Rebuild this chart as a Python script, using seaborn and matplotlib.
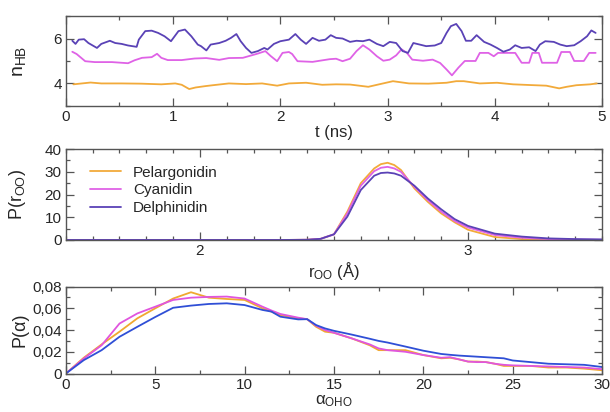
import numpy as np
import pandas as pd
import seaborn as sns
import matplotlib.pyplot as plt
from matplotlib.ticker import MultipleLocator, FuncFormatter

# ---- panel 1: number of H-bonds vs time ----
t_pel = [0.07, 0.15, 0.23, 0.33, 0.52, 0.70, 0.89, 1.02, 1.08, 1.15, 1.21, 1.30, 1.37,
         1.52, 1.68, 1.83, 1.97, 2.08, 2.24, 2.39, 2.52, 2.65, 2.82, 2.93, 3.05, 3.20,
         3.38, 3.55, 3.64, 3.71, 3.86, 4.02, 4.17, 4.32, 4.48, 4.60, 4.67, 4.76, 4.89, 4.95]
n_pel = [3.96, 4.00, 4.04, 4.00, 4.00, 3.99, 3.96, 4.00, 3.94, 3.75, 3.82, 3.88, 3.92,
         4.00, 3.97, 4.00, 3.90, 4.00, 4.03, 3.94, 3.96, 3.95, 3.85, 3.97, 4.10, 4.00,
         3.99, 4.03, 4.10, 4.10, 4.00, 4.03, 3.96, 3.93, 3.90, 3.78, 3.85, 3.92, 3.96, 4.00]

t_cya = [0.06, 0.10, 0.18, 0.27, 0.43, 0.58, 0.64, 0.71, 0.80, 0.85, 0.89, 0.95, 1.08,
         1.20, 1.31, 1.43, 1.52, 1.65, 1.79, 1.86, 1.91, 1.97, 2.02, 2.08, 2.11, 2.16,
         2.30, 2.46, 2.52, 2.58, 2.65, 2.71, 2.77, 2.83, 2.90, 2.96, 3.02, 3.08, 3.13,
         3.18, 3.23, 3.33, 3.42, 3.49, 3.55, 3.60, 3.66, 3.72, 3.82, 3.86, 3.94, 3.99,
         4.03, 4.19, 4.25, 4.32, 4.35, 4.41, 4.44, 4.58, 4.62, 4.70, 4.74, 4.83, 4.88, 4.94]
n_cya = [5.41, 5.31, 4.99, 4.95, 4.95, 4.90, 5.03, 5.14, 5.17, 5.32, 5.14, 5.04, 5.04,
         5.11, 5.13, 5.05, 5.13, 5.14, 5.33, 5.44, 5.22, 4.99, 5.36, 5.40, 5.31, 4.99,
         4.96, 5.08, 5.10, 4.99, 5.10, 5.44, 5.70, 5.51, 5.21, 5.01, 5.06, 5.25, 5.52,
         5.36, 5.06, 5.01, 5.06, 4.91, 4.62, 4.36, 4.70, 5.00, 5.00, 5.36, 5.36, 5.21,
         5.36, 5.36, 4.92, 4.92, 5.36, 5.36, 4.92, 4.92, 5.40, 5.40, 5.00, 5.00, 5.36, 5.36]

t_del = [0.06, 0.09, 0.12, 0.17, 0.21, 0.29, 0.33, 0.41, 0.46, 0.52, 0.58, 0.66, 0.68,
         0.74, 0.80, 0.86, 0.92, 0.98, 1.05, 1.11, 1.17, 1.23, 1.26, 1.31, 1.35, 1.43,
         1.49, 1.54, 1.59, 1.63, 1.68, 1.73, 1.79, 1.85, 1.88, 1.94, 2.00, 2.08, 2.14,
         2.19, 2.24, 2.30, 2.36, 2.42, 2.47, 2.52, 2.58, 2.65, 2.71, 2.77, 2.83, 2.90,
         2.96, 3.02, 3.08, 3.14, 3.19, 3.24, 3.30, 3.36, 3.44, 3.50, 3.55, 3.59, 3.64,
         3.69, 3.73, 3.78, 3.83, 3.90, 3.96, 4.02, 4.08, 4.14, 4.19, 4.25, 4.32, 4.38,
         4.42, 4.47, 4.55, 4.61, 4.67, 4.74, 4.80, 4.86, 4.90, 4.94]
n_del = [5.90, 5.76, 5.95, 5.97, 5.80, 5.58, 5.76, 5.90, 5.80, 5.76, 5.69, 5.63, 5.95,
         6.33, 6.35, 6.25, 6.10, 5.88, 6.33, 6.40, 6.10, 5.73, 5.66, 5.47, 5.73, 5.80,
         5.90, 6.03, 6.20, 5.88, 5.58, 5.36, 5.44, 5.58, 5.51, 5.76, 5.88, 5.95, 6.20,
         5.95, 5.76, 6.03, 5.90, 5.95, 6.15, 6.03, 6.00, 5.85, 5.90, 5.88, 5.95, 5.76,
         5.66, 5.85, 5.80, 5.44, 5.36, 5.80, 5.73, 5.66, 5.69, 5.80, 6.25, 6.55, 6.65,
         6.33, 5.90, 5.90, 6.15, 5.85, 5.73, 5.58, 5.41, 5.51, 5.70, 5.58, 5.61, 5.44,
         5.73, 5.88, 5.85, 5.73, 5.66, 5.70, 5.88, 6.10, 6.36, 6.25]

# ---- panel 2: O-O distance distribution ----
r_oo = [1.50, 2.30, 2.40, 2.45, 2.50, 2.55, 2.60, 2.65, 2.675, 2.70, 2.725, 2.75, 2.80,
        2.85, 2.90, 2.95, 3.00, 3.10, 3.20, 3.30, 3.40, 3.50]
p_pel = [0, 0, 0.1, 0.5, 2.5, 12.5, 25.0, 31.5, 33.4, 34.0, 33.0, 30.8, 22.7,
         16.8, 11.7, 7.8, 4.5, 1.3, 0.4, 0.15, 0.05, 0.0]
p_cya = [0, 0, 0.1, 0.5, 2.5, 11.7, 23.9, 30.3, 31.8, 32.2, 31.5, 30.0, 23.4,
         17.6, 12.5, 8.4, 5.5, 2.2, 1.0, 0.4, 0.2, 0.1]
p_del = [0, 0, 0.1, 0.5, 2.5, 10.3, 22.0, 28.3, 29.5, 29.7, 29.3, 28.3, 23.9,
         18.3, 13.5, 9.2, 6.2, 2.8, 1.5, 0.7, 0.4, 0.25]

# ---- panel 3: O-H...O angle distribution ----
alpha = [0, 1, 2, 3, 4, 5, 6, 7, 8, 9, 10, 11, 11.5, 12, 13, 13.5, 14, 14.5, 15, 16,
         17, 17.5, 18, 19, 20, 21, 21.5, 22, 22.5, 23, 23.5, 24, 24.5, 25, 26, 27, 28, 29, 30]
pa_pel = [0, 0.0145, 0.0268, 0.0385, 0.0508, 0.060, 0.069, 0.0748, 0.0698, 0.0686, 0.0677,
          0.060, 0.057, 0.0538, 0.0508, 0.050, 0.043, 0.0385, 0.0375, 0.0323, 0.026, 0.0215,
          0.0215, 0.0215, 0.017, 0.014, 0.0145, 0.013, 0.011, 0.011, 0.0105, 0.009, 0.007,
          0.007, 0.007, 0.0055, 0.0055, 0.0045, 0.003]
pa_cya = [0, 0.0138, 0.026, 0.046, 0.0553, 0.0615, 0.0677, 0.0698, 0.0705, 0.0708, 0.069,
          0.0615, 0.058, 0.0548, 0.0514, 0.050, 0.044, 0.040, 0.0375, 0.0323, 0.0268, 0.0231,
          0.0215, 0.020, 0.017, 0.0145, 0.015, 0.013, 0.011, 0.0105, 0.0105, 0.009, 0.008,
          0.0075, 0.007, 0.0065, 0.006, 0.0055, 0.004]
pa_del = [0, 0.0123, 0.0215, 0.0338, 0.043, 0.052, 0.0605, 0.0625, 0.064, 0.0646, 0.063,
          0.0585, 0.057, 0.0523, 0.0498, 0.050, 0.0446, 0.0415, 0.0393, 0.0358, 0.032, 0.030,
          0.0285, 0.0248, 0.021, 0.018, 0.0172, 0.0165, 0.016, 0.0155, 0.015, 0.0145, 0.014,
          0.012, 0.0105, 0.009, 0.0085, 0.008, 0.006]

names = ["Pelargonidin", "Cyanidin", "Delphinidin"]
pal_top = dict(zip(names, ["#F2AA3A", "#DF62E6", "#5A42B6"]))
pal_bot = dict(zip(names, ["#F0A830", "#E055DE", "#2F4FD6"]))


def long_df(xs, ys, xname, yname):
    parts = [pd.DataFrame({xname: x, yname: y, "mol": n}) for x, y, n in zip(xs, ys, names)]
    return pd.concat(parts, ignore_index=True)


df_hb = long_df([t_pel, t_cya, t_del], [n_pel, n_cya, n_del], "t", "n")
df_r = long_df([r_oo] * 3, [p_pel, p_cya, p_del], "r", "p")
df_a = long_df([alpha] * 3, [pa_pel, pa_cya, pa_del], "a", "p")

sns.set_style("ticks")
plt.rcParams['font.family'] = ['Liberation Sans', 'DejaVu Sans']
plt.rcParams['mathtext.fontset'] = 'custom'
plt.rcParams['mathtext.rm'] = 'Liberation Sans'
plt.rcParams['mathtext.it'] = 'Liberation Sans:italic'
plt.rcParams['mathtext.default'] = 'regular'

fig = plt.figure(figsize=(6.1, 4.12), dpi=100)
ax1 = fig.add_axes([0.108, 0.743, 0.879, 0.218])
ax2 = fig.add_axes([0.108, 0.4175, 0.879, 0.2205])
ax3 = fig.add_axes([0.108, 0.0934, 0.879, 0.211])

sns.lineplot(data=df_hb, x="t", y="n", hue="mol", palette=pal_top, sort=False,
             estimator=None, lw=1.3, legend=False, ax=ax1)
sns.lineplot(data=df_r, x="r", y="p", hue="mol", palette=pal_top, sort=False,
             estimator=None, lw=1.3, ax=ax2)
sns.lineplot(data=df_a, x="a", y="p", hue="mol", palette=pal_bot, sort=False,
             estimator=None, lw=1.3, legend=False, ax=ax3)

ax1.set(xlim=(0, 5), ylim=(3, 7))
ax1.xaxis.set_major_locator(MultipleLocator(1))
ax1.xaxis.set_minor_locator(MultipleLocator(0.5))
ax1.yaxis.set_major_locator(MultipleLocator(2))
ax1.yaxis.set_minor_locator(MultipleLocator(1))
ax1.set_xlabel("t (ns)", fontsize=12, labelpad=1)
ax1.set_ylabel(r"n$_{\rm HB}$", fontsize=14)

ax2.set(xlim=(1.5, 3.5), ylim=(0, 40))
ax2.xaxis.set_major_locator(MultipleLocator(1))
ax2.xaxis.set_minor_locator(MultipleLocator(0.1))
ax2.yaxis.set_major_locator(MultipleLocator(10))
ax2.yaxis.set_minor_locator(MultipleLocator(5))
ax2.set_xlabel(r"r$_{\rm OO}$ (Å)", fontsize=12, labelpad=1)
ax2.set_ylabel(r"P(r$_{\rm OO}$)", fontsize=13)
ax2.legend(loc="upper left", bbox_to_anchor=(0.02, 0.97), frameon=False, fontsize=11,
           handlelength=2.0, handletextpad=0.8, labelspacing=0.25)

ax3.set(xlim=(0, 30), ylim=(0, 0.08))
ax3.xaxis.set_major_locator(MultipleLocator(5))
ax3.xaxis.set_minor_locator(MultipleLocator(2.5))
ax3.yaxis.set_major_locator(MultipleLocator(0.02))
ax3.yaxis.set_minor_locator(MultipleLocator(0.01))
ax3.yaxis.set_major_formatter(FuncFormatter(
    lambda v, pos: "0" if abs(v) < 1e-9 else f"{v:.2f}".replace(".", ",")))
ax3.set_xlabel(r"α$_{\rm OHO}$", fontsize=12, labelpad=1)
ax3.set_ylabel("P(α)", fontsize=13)

for ax in (ax1, ax2, ax3):
    ax.tick_params(which="both", direction="in", top=True, right=True,
                   color="#555555", labelsize=11, pad=3)
    ax.tick_params(which="major", length=6, width=0.9)
    ax.tick_params(which="minor", length=3, width=0.9)
    for s in ax.spines.values():
        s.set_color("#555555")
        s.set_linewidth(1.0)
    ax.yaxis.set_label_coords(-0.07, 0.5)

fig.savefig("out.png", dpi=100)
